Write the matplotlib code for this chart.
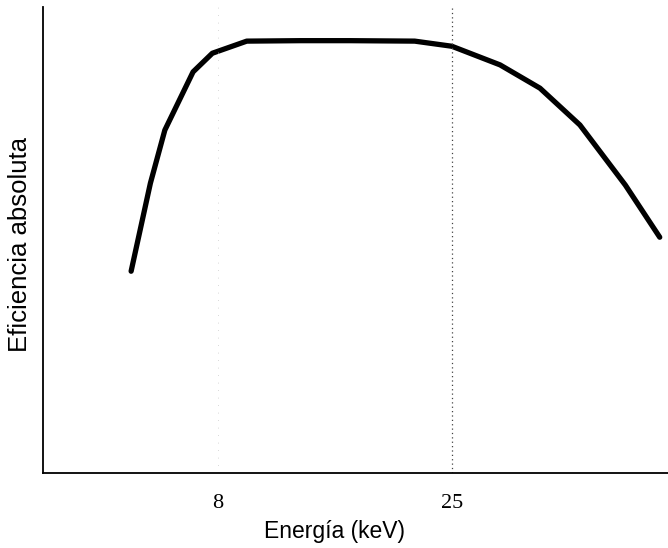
import matplotlib
matplotlib.use("Agg")
from matplotlib import pyplot as plt

# curve (energy in keV, efficiency in arbitrary units)
energy = [1.7, 3.1, 4.15, 6.2, 7.6, 10.1, 14.0, 17.6, 22.3, 25.0, 28.5, 31.4, 34.3, 37.6, 40.1]
efficiency = [0.433, 0.622, 0.736, 0.861, 0.901, 0.927, 0.928, 0.928, 0.927, 0.916, 0.876, 0.826, 0.747, 0.618, 0.506]
tick_pos = [8, 25]
tick_labels = ["8", "25"]

fig = plt.figure(figsize=(6.68, 5.48), dpi=100)
ax = fig.add_axes([0.0644, 0.137, 0.9356, 0.85])

ax.plot(energy, efficiency, color="black", lw=3.8, solid_capstyle="round", solid_joinstyle="round")

# dotted guide lines
ax.axvline(25, color="#444444", lw=0.9, ls=(0, (1, 2.5)))
ax.axvline(8, color="#cccccc", lw=0.6, ls=(0, (1, 8)))

ax.set_xlim(-4.7, 40.7)
ax.set_ylim(0, 1.0)

ax.spines["top"].set_visible(False)
ax.spines["right"].set_visible(False)
ax.spines["left"].set_linewidth(1.3)
ax.spines["bottom"].set_linewidth(1.3)

ax.set_xticks(tick_pos)
ax.set_xticklabels(tick_labels, fontfamily="Liberation Serif", fontsize=16)
ax.tick_params(axis="x", length=0, pad=15.5)
ax.set_yticks([])

ax.set_xlabel("Energía (keV)", fontfamily="Liberation Sans", fontsize=16.5)
ax.xaxis.set_label_coords(0.467, -0.1)
ax.set_ylabel("Eficiencia absoluta", fontfamily="Liberation Sans", fontsize=18.5)
ax.yaxis.set_label_coords(-0.017, 0.49)

fig.savefig("out.png", dpi=100)
